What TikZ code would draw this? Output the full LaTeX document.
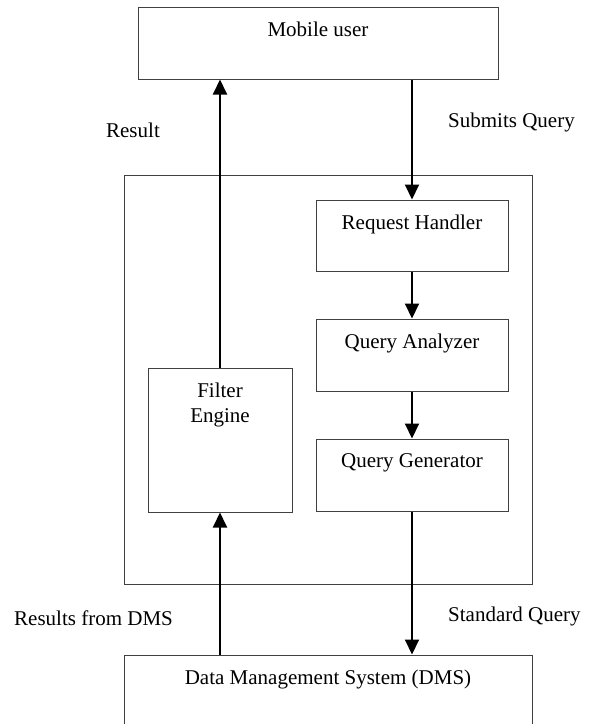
\documentclass[tikz,border=0pt]{standalone}
\usepackage{fontspec}
\setmainfont{Liberation Serif}
\usetikzlibrary{arrows.meta,positioning}

\begin{document}
\begin{tikzpicture}[
		x=1pt, y=-1pt,
		font=\fontsize{21}{25}\selectfont,
		% Node styles
		box/.style={draw=black!75, line width=1pt, minimum width=#1, minimum height=72pt, inner sep=0pt},
		box/.default=192pt,
		boxtext/.style={anchor=north, label distance=-8pt, align=center, inner sep=7pt},
		caption/.style={inner sep=0pt},
		connector/.style={-{Triangle[width=14pt, length=15pt]}, draw=black, line width=2pt},
	]
	\useasboundingbox (0,0) rectangle (593,724);

	% Middle tier frame
	\node[box=408pt, minimum height=409pt] (middleware) at (328,379.5) {};

	% Top and bottom tiers
	\node[box=360pt, label={[boxtext]north:Mobile user}] (mobile_user) at (318,43) {};
	\node[box=408pt, minimum height=90pt, label={[boxtext]north:Data Management System (DMS)}] (dms) at (328,700) {};

	% Query chain, stacked below the request handler
	\node[box, minimum height=71pt, label={[boxtext]north:Request Handler}] (request_handler) at (412,235.5) {};
	\node[box, label={[boxtext]north:Query Analyzer}] (query_analyzer) [below=47pt of request_handler] {};
	\node[box, label={[boxtext]north:Query Generator}] (query_generator) [below=47pt of query_analyzer] {};

	% Filter engine on the return path
	\node[box=144pt, minimum height=144pt, label={[boxtext]north:Filter\\Engine}] (filter_engine) at (220,440) {};

	% Connections
	\draw[connector] (mobile_user.south -| request_handler.north) -- (request_handler.north);
	\draw[connector] (request_handler) -- (query_analyzer);
	\draw[connector] (query_analyzer) -- (query_generator);
	\draw[connector] (query_generator.south) -- (query_generator.south |- dms.north);
	\draw[connector] (dms.north -| filter_engine.south) -- (filter_engine.south);
	\draw[connector] (filter_engine.north) -- (filter_engine.north |- mobile_user.south);

	% Connector captions
	\node[caption] (result_label) at (133,130) {Result};
	\node[caption, anchor=west] (submits_label) at (448,122) {Submits Query};
	\node[caption, anchor=west] (results_dms_label) at (14,618) {Results from DMS};
	\node[caption, anchor=west] (standard_label) at (448,616) {Standard Query};

\end{tikzpicture}
\end{document}
